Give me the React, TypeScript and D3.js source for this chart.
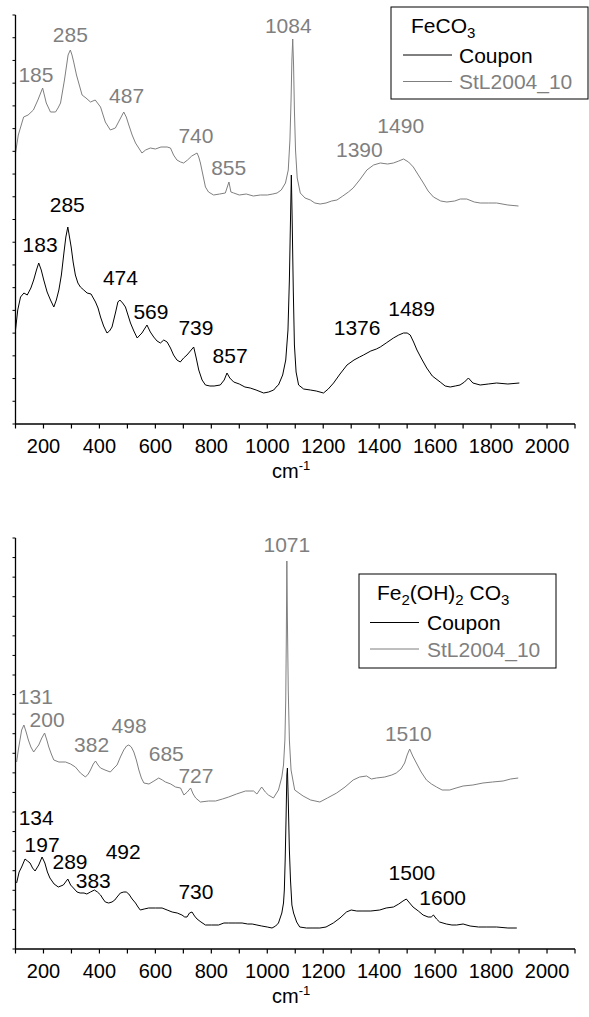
import React from "react";
import * as d3 from "d3";

type P = [number, number];

// ---------- Panel A (FeCO3) ----------
const topStL: P[] = [
  [100, 271], [110, 289], [129, 307], [145, 309], [164, 314], [180, 324], [197, 336], [210, 321],
  [225, 312], [243, 312], [252, 316], [261, 321], [275, 344], [288, 369], [296, 374], [302, 369],
  [308, 362], [318, 349], [326, 341], [338, 329], [352, 326], [368, 322], [385, 324], [404, 317],
  [421, 302], [439, 294], [457, 296], [472, 304], [487, 312], [496, 307], [505, 299], [517, 289],
  [529, 281], [552, 271], [565, 274], [582, 276], [600, 275], [620, 277], [642, 277], [654, 276],
  [665, 269], [677, 264], [690, 262], [701, 261], [715, 264], [730, 268], [749, 271], [755, 267],
  [761, 261], [770, 249], [779, 237], [790, 232], [808, 229], [830, 230], [850, 231], [863, 242],
  [870, 232], [880, 231], [900, 229], [925, 230], [950, 228], [975, 229], [1000, 229], [1020, 230],
  [1035, 231], [1050, 234], [1065, 241], [1075, 254], [1081, 284], [1085, 324], [1088, 364],
  [1091, 385], [1094, 359], [1097, 314], [1101, 274], [1107, 246], [1118, 231], [1135, 226],
  [1154, 224], [1170, 221], [1189, 220], [1210, 221], [1230, 223], [1249, 224], [1270, 228],
  [1290, 232], [1307, 236], [1330, 244], [1356, 254], [1380, 259], [1404, 261], [1430, 260],
  [1451, 261], [1470, 263], [1487, 265], [1505, 262], [1522, 257], [1540, 249], [1558, 241],
  [1575, 233], [1594, 227], [1620, 223], [1642, 222], [1670, 223], [1690, 225], [1713, 225],
  [1740, 222], [1761, 221], [1790, 221], [1820, 221], [1860, 219], [1898, 218],
];

const topCoupon: P[] = [
  [100, 94], [108, 114], [118, 127], [130, 131], [142, 129], [155, 136], [165, 144], [175, 154],
  [183, 161], [192, 154], [201, 144], [213, 132], [225, 124], [237, 117], [246, 124], [255, 134],
  [264, 149], [273, 171], [280, 187], [287, 197], [293, 187], [299, 177], [306, 162], [314, 149],
  [323, 141], [332, 137], [344, 134], [356, 131], [370, 130], [386, 122], [395, 116], [404, 107],
  [415, 98], [427, 91], [436, 93], [445, 97], [458, 112], [466, 122], [473, 124], [483, 121],
  [493, 117], [502, 109], [511, 101], [523, 93], [535, 86], [545, 89], [552, 91], [561, 95],
  [570, 99], [582, 92], [594, 87], [606, 83], [618, 81], [630, 84], [642, 82], [654, 76],
  [665, 69], [677, 64], [689, 62], [701, 66], [713, 69], [725, 73], [737, 77], [746, 66],
  [755, 54], [767, 44], [779, 39], [795, 38], [810, 38], [832, 39], [846, 44], [856, 51],
  [866, 46], [880, 42], [900, 40], [920, 37], [939, 36], [960, 34], [987, 31], [1005, 32],
  [1023, 34], [1035, 38], [1040, 39], [1055, 49], [1066, 64], [1074, 94], [1079, 144],
  [1083, 204], [1086, 249], [1089, 204], [1093, 134], [1097, 79], [1103, 52], [1112, 39],
  [1130, 35], [1154, 34], [1175, 33], [1201, 31], [1218, 35], [1237, 41], [1260, 50], [1285, 59],
  [1310, 64], [1330, 67], [1344, 69], [1370, 73], [1390, 75], [1404, 77], [1425, 81], [1451, 86],
  [1470, 89], [1487, 91], [1500, 91], [1511, 89], [1523, 82], [1535, 74], [1552, 65], [1570, 56],
  [1590, 48], [1618, 42], [1636, 38], [1654, 37], [1672, 38], [1689, 39], [1705, 42], [1719, 46],
  [1735, 41], [1761, 39], [1790, 40], [1820, 41], [1860, 40], [1901, 41],
];

// ---------- Panel B (Fe2(OH)2CO3) ----------
const bottomStL: P[] = [
  [104, 187], [110, 199], [116, 209], [122, 219], [130, 224], [138, 217], [146, 209], [155, 202],
  [165, 197], [175, 201], [183, 204], [194, 211], [204, 216], [212, 209], [219, 202], [228, 195],
  [237, 189], [255, 187], [279, 187], [297, 185], [314, 182], [332, 176], [350, 172], [360, 175],
  [368, 179], [378, 185], [386, 188], [395, 184], [404, 181], [420, 179], [439, 177], [452, 181],
  [463, 184], [475, 192], [487, 199], [497, 203], [505, 204], [514, 202], [523, 197], [532, 189],
  [541, 179], [550, 171], [559, 166], [577, 165], [595, 168], [612, 171], [625, 169], [636, 167],
  [655, 165], [672, 162], [690, 161], [702, 154], [714, 157], [726, 161], [735, 155], [744, 151],
  [761, 147], [790, 148], [815, 148], [840, 150], [862, 152], [890, 155], [922, 158], [951, 158],
  [963, 155], [980, 162], [993, 157], [1004, 154], [1022, 151], [1040, 159], [1052, 172],
  [1058, 184], [1063, 209], [1066, 249], [1068, 309], [1070, 388], [1072, 329], [1075, 259],
  [1079, 209], [1085, 179], [1098, 159], [1128, 153], [1155, 149], [1188, 147], [1215, 151],
  [1248, 156], [1278, 162], [1307, 169], [1330, 172], [1355, 173], [1372, 170], [1390, 171],
  [1420, 172], [1445, 174], [1461, 176], [1478, 180], [1491, 186], [1500, 194], [1509, 200],
  [1520, 193], [1533, 186], [1550, 177], [1569, 169], [1587, 165], [1605, 162], [1625, 159],
  [1652, 159], [1675, 161], [1700, 163], [1735, 164], [1771, 166], [1805, 167], [1843, 168],
  [1870, 170], [1897, 171],
];

const bottomCoupon: P[] = [
  [104, 66], [113, 77], [122, 82], [134, 90], [143, 88], [152, 86], [161, 81], [170, 78],
  [183, 84], [195, 92], [205, 86], [214, 77], [223, 71], [238, 65], [253, 62], [271, 64],
  [287, 70], [297, 64], [307, 61], [320, 57], [331, 56], [345, 56], [355, 55], [368, 57],
  [382, 59], [393, 57], [404, 54], [413, 50], [421, 47], [433, 46], [445, 47], [455, 49],
  [463, 52], [475, 56], [487, 57], [496, 57], [505, 55], [517, 50], [529, 46], [538, 42],
  [546, 39], [560, 40], [576, 41], [600, 41], [624, 41], [642, 39], [660, 37], [678, 36],
  [695, 34], [705, 32], [713, 32], [722, 36], [731, 37], [740, 33], [749, 30], [763, 27],
  [779, 24], [800, 24], [826, 24], [845, 26], [862, 26], [885, 26], [910, 26], [930, 25],
  [946, 25], [963, 24], [980, 23], [1000, 22], [1017, 21], [1030, 23], [1040, 26], [1052, 36],
  [1058, 46], [1061, 59], [1064, 89], [1067, 129], [1070, 174], [1072, 181], [1075, 149],
  [1079, 99], [1083, 69], [1088, 44], [1094, 36], [1105, 27], [1116, 22], [1140, 21],
  [1160, 21], [1188, 21], [1210, 22], [1236, 26], [1260, 31], [1283, 37], [1300, 39],
  [1320, 38], [1342, 38], [1370, 38], [1402, 39], [1425, 41], [1451, 42], [1470, 45],
  [1485, 48], [1497, 50], [1509, 46], [1521, 42], [1540, 38], [1557, 34], [1575, 32],
  [1586, 32], [1594, 34], [1605, 30], [1616, 27], [1640, 25], [1660, 24], [1677, 24],
  [1700, 25], [1725, 23], [1755, 22], [1785, 22], [1820, 22], [1860, 21], [1892, 21],
];

// peak annotations: [text, wavenumber, intensity of label baseline]
type L = [string, number, number];
const topStLLabels: L[] = [
  ["185", 173, 342], ["285", 296, 382], ["487", 497, 321], ["740", 745, 281],
  ["855", 862, 249], ["1084", 1075, 391], ["1390", 1329, 267], ["1490", 1477, 291],
];
const topCouponLabels: L[] = [
  ["285", 285, 212], ["183", 188, 172], ["474", 475, 139], ["569", 584, 105],
  ["739", 745, 89], ["857", 867, 61], ["1376", 1321, 89], ["1489", 1516, 108],
];
const bottomStLLabels: L[] = [
  ["1071", 1070, 397], ["131", 171, 245], ["200", 213, 222], ["498", 506, 216],
  ["382", 372, 197], ["685", 639, 188], ["727", 745, 166], ["1510", 1504, 208],
];
const bottomCouponLabels: L[] = [
  ["134", 174, 124], ["197", 195, 97], ["289", 295, 80], ["383", 378, 61],
  ["492", 485, 90], ["730", 745, 50], ["1500", 1517, 69], ["1600", 1627, 44],
];

const xTickValues = [100, 200, 300, 400, 500, 600, 700, 800, 900, 1000, 1100, 1200, 1300, 1400, 1500, 1600, 1700, 1800, 1900, 2000, 2100];
const xTickLabels = [200, 400, 600, 800, 1000, 1200, 1400, 1600, 1800, 2000];
const seriesNames = ["Coupon", "StL2004_10"];

const FONT = "'Liberation Sans', Arial, Helvetica, sans-serif";
const GRAY = "#7f7f7f";

interface PanelProps {
  top: number;
  bottom: number;
  yMax: number;
  yIntervals: number;
  coupon: P[];
  stl: P[];
  couponLabels: L[];
  stlLabels: L[];
  legend: { x0: number; y0: number; x1: number; y1: number; title: React.ReactNode; titleX: number; titleY: number; lineX0: number; lineX1: number; textX: number; row1: number; row2: number };
}

function Panel(p: PanelProps) {
  const x = d3.scaleLinear().domain([100, 2100]).range([15.5, 575]);
  const y = d3.scaleLinear().domain([0, p.yMax]).range([p.bottom, p.top]);
  const line = d3.line<P>().x((d) => x(d[0])).y((d) => y(d[1]));
  const yTicks = d3.range(0, p.yIntervals + 1).map((i) => (i * p.yMax) / p.yIntervals);
  const L = p.legend;
  return (
    <g>
      <path d={line(p.stl) || ""} fill="none" stroke={GRAY} strokeWidth={1} />
      <path d={line(p.coupon) || ""} fill="none" stroke="#000" strokeWidth={1} />
      {/* axes */}
      <line x1={x(100)} x2={x(100)} y1={p.top} y2={p.bottom} stroke="#000" strokeWidth={1.3} />
      <line x1={x(100)} x2={x(2100)} y1={p.bottom} y2={p.bottom} stroke="#000" strokeWidth={1.3} />
      {yTicks.map((t, i) => (
        <line key={"yt" + i} x1={x(100) - 3} x2={x(100)} y1={y(t)} y2={y(t)} stroke="#000" strokeWidth={1} />
      ))}
      {xTickValues.map((t) => (
        <line key={"xt" + t} x1={x(t)} x2={x(t)} y1={p.bottom} y2={p.bottom + 4.5} stroke="#000" strokeWidth={1.2} />
      ))}
      {xTickLabels.map((t) => (
        <text key={"xl" + t} x={x(t)} y={p.bottom + 29} textAnchor="middle" fontFamily={FONT} fontSize={20} fill="#000">
          {t}
        </text>
      ))}
      <text x={272} y={p.bottom + 54} fontFamily={FONT} fontSize={20} fill="#000">
        cm<tspan fontSize={13} dy={-8}>-1</tspan>
      </text>
      {/* peak labels */}
      {p.stlLabels.map((l, i) => (
        <text key={"sl" + i} x={x(l[1])} y={y(l[2])} textAnchor="middle" fontFamily={FONT} fontSize={21} fill={GRAY}>
          {l[0]}
        </text>
      ))}
      {p.couponLabels.map((l, i) => (
        <text key={"cl" + i} x={x(l[1])} y={y(l[2])} textAnchor="middle" fontFamily={FONT} fontSize={21} fill="#000">
          {l[0]}
        </text>
      ))}
      {/* legend */}
      <rect x={L.x0} y={L.y0} width={L.x1 - L.x0} height={L.y1 - L.y0} fill="#fff" stroke="#000" strokeWidth={1} />
      <text x={L.titleX} y={L.titleY} fontFamily={FONT} fontSize={21} fill="#000">
        {L.title}
      </text>
      <line x1={L.lineX0} x2={L.lineX1} y1={L.row1} y2={L.row1} stroke="#000" strokeWidth={1} />
      <text x={L.textX} y={L.row1 + 7.5} fontFamily={FONT} fontSize={21} fill="#000">
        {seriesNames[0]}
      </text>
      <line x1={L.lineX0} x2={L.lineX1} y1={L.row2} y2={L.row2} stroke={GRAY} strokeWidth={1} />
      <text x={L.textX} y={L.row2 + 7.5} fontFamily={FONT} fontSize={21} fill={GRAY}>
        {seriesNames[1]}
      </text>
    </g>
  );
}

export default function App() {
  return (
    <svg width={589} height={1017} style={{ position: "absolute", left: 0, top: 0, background: "#fff" }}>
      <rect x={0} y={0} width={589} height={1017} fill="#fff" />
      <Panel
        top={15}
        bottom={424}
        yMax={409}
        yIntervals={18}
        coupon={topCoupon}
        stl={topStL}
        couponLabels={topCouponLabels}
        stlLabels={topStLLabels}
        legend={{
          x0: 391, y0: 7, x1: 588, y1: 99,
          title: (
            <>
              FeCO<tspan fontSize={15} dy={5}>3</tspan>
            </>
          ),
          titleX: 411, titleY: 33,
          lineX0: 403, lineX1: 452, textX: 459, row1: 55, row2: 81.5,
        }}
      />
      <Panel
        top={538}
        bottom={949}
        yMax={411}
        yIntervals={21}
        coupon={bottomCoupon}
        stl={bottomStL}
        couponLabels={bottomCouponLabels}
        stlLabels={bottomStLLabels}
        legend={{
          x0: 359, y0: 574, x1: 556, y1: 668,
          title: (
            <>
              Fe<tspan fontSize={15} dy={5}>2</tspan>
              <tspan dy={-5}>(OH)</tspan>
              <tspan fontSize={15} dy={5}>2</tspan>
              <tspan dy={-5}> CO</tspan>
              <tspan fontSize={15} dy={5}>3</tspan>
            </>
          ),
          titleX: 377, titleY: 600,
          lineX0: 370, lineX1: 419, textX: 427, row1: 622.5, row2: 649,
        }}
      />
    </svg>
  );
}
